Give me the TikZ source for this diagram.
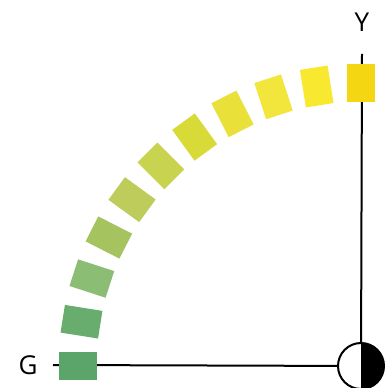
\documentclass[tikz,border=0pt]{standalone}
\usepackage{fontspec}
\setmainfont{Open Sans}
\usetikzlibrary{calc}
\definecolor{hueA}{RGB}{245,214,18}
\definecolor{hueB}{RGB}{248,232,48}
\definecolor{hueC}{RGB}{242,229,60}
\definecolor{hueD}{RGB}{233,224,58}
\definecolor{hueE}{RGB}{215,218,55}
\definecolor{hueF}{RGB}{200,211,79}
\definecolor{hueG}{RGB}{189,204,90}
\definecolor{hueH}{RGB}{165,196,95}
\definecolor{hueI}{RGB}{139,189,116}
\definecolor{hueJ}{RGB}{104,173,110}
\definecolor{hueK}{RGB}{91,164,106}

\begin{document}
\begin{tikzpicture}[x=1pt, y=1pt]
    \tikzset{
        tile/.style={rectangle, inner sep=0pt, minimum width=28pt, minimum height=38pt},
        axis/.style={line width=2pt},
        lbl/.style={font=\fontsize{26}{30}\selectfont}
    }
    \useasboundingbox (0,0) rectangle (387,388);
    % hue centre
    \node[circle, minimum size=46pt, inner sep=0pt] (o) at (361,22) {};
    \coordinate (yEnd) at (362,334);
    \coordinate (gEnd) at (53,23);
    % axes
    \draw[axis] (yEnd) -- (o.center);
    \draw[axis] (gEnd) -- (o.center);
    % tiles along the arc
    \foreach \i/\c in {0/hueA,1/hueB,2/hueC,3/hueD,4/hueE,5/hueF,6/hueG,7/hueH,8/hueI,9/hueJ,10/hueK} {
        \node[tile, fill=\c, rotate=9*\i] (s\i) at ($(o.center)+({90+9*\i}:283)$) {};
    }
    % circle with dark half
    \fill[white] (o.center) circle (23);
    \fill[black] (o.north) arc (90:-90:23) -- cycle;
    \draw[line width=2pt] (o.center) circle (23);
    \draw[line width=1pt] (o.north) -- (o.south);
    % labels
    \node[lbl] (yl) at (362,366) {Y};
    \node[lbl] (gl) at (28,23) {G};
\end{tikzpicture}
\end{document}
